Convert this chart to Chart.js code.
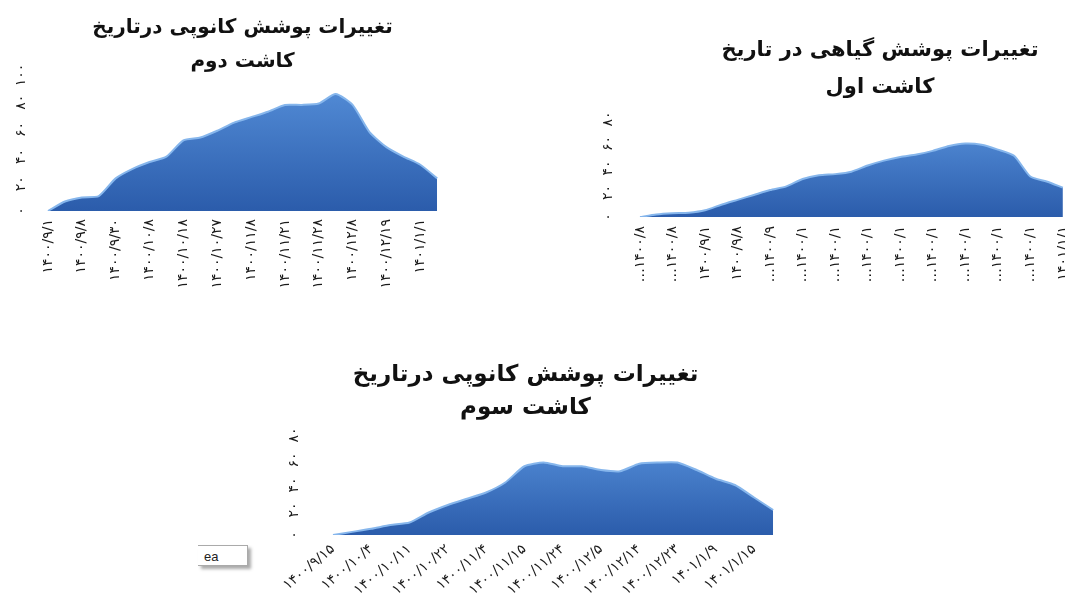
<!DOCTYPE html>
<html>
<head>
<meta charset="utf-8">
<script src="https://cdn.jsdelivr.net/npm/chart.js@4.4.1/dist/chart.umd.min.js"></script>
<style>
body { margin:0; width:1065px; height:603px; overflow:hidden; background:#fff; position:relative; }
canvas { position:absolute; }
#c1 { left:0; top:0; }
#c2 { left:590px; top:0; }
#c3 { left:261px; top:340px; }
.tip {
    position:absolute; left:198px; top:545px; width:50px; height:21px;
    background:#fff; border:1px solid #aaa; border-left:none;
    box-shadow:3px 3px 3px #aaa;
    font:13px "Liberation Sans", Arial, sans-serif; line-height:21px; color:#222;
    padding-left:6px; box-sizing:border-box;
}
</style>
</head>
<body>
<canvas id="c1" width="462" height="305"></canvas>
<canvas id="c2" width="580" height="310"></canvas>
<canvas id="c3" width="529" height="270"></canvas>
<div class="tip">ea</div>
<script>
const FONT = "'DejaVu Sans', sans-serif";

// chart 1 - کاشت دوم
const title1 = ["تغییرات پوشش کانوپی درتاریخ", "کاشت دوم"];
const dates1 = ["۱۴۰۰/۹/۱", "۱۴۰۰/۹/۸", "۱۴۰۰/۹/۳۰", "۱۴۰۰/۱۰/۸", "۱۴۰۰/۱۰/۱۸", "۱۴۰۰/۱۰/۲۷",
                "۱۴۰۰/۱۱/۸", "۱۴۰۰/۱۱/۲۱", "۱۴۰۰/۱۱/۲۸", "۱۴۰۰/۱۲/۸", "۱۴۰۰/۱۲/۱۹", "۱۴۰۱/۱/۱"];
const cover1 = [0, 7, 10, 11, 24, 31, 36, 40, 52, 54, 59, 65, 69, 73, 78, 78, 79, 86, 78, 58, 47, 40, 34, 24];

// chart 2 - کاشت اول
const title2 = ["تغییرات پوشش گیاهی در تاریخ", "کاشت اول"];
const dates2 = ["…۱۴۰۰/۸", "…۱۴۰۰/۸", "۱۴۰۰/۹/۱", "۱۴۰۰/۹/۸", "…۱۴۰۰/۹", "…۱۴۰۰/۱", "…۱۴۰۰/۱",
                "…۱۴۰۰/۱", "…۱۴۰۰/۱", "…۱۴۰۰/۱", "…۱۴۰۰/۱", "…۱۴۰۰/۱", "…۱۴۰۰/۱", "۱۴۰۱/۱/۱"];
const cover2 = [0, 2, 3, 3.5, 5.5, 10, 14, 18, 22, 25, 31, 34, 35, 37, 42, 46, 49, 51, 54, 58, 60, 59, 55, 50, 33, 29, 24];

// chart 3 - کاشت سوم
const title3 = ["تغییرات پوشش کانوپی درتاریخ", "کاشت سوم"];
const dates3 = ["۱۴۰۰/۹/۱۵", "۱۴۰۰/۱۰/۴", "۱۴۰۰/۱۰/۱۱", "۱۴۰۰/۱۰/۲۲", "۱۴۰۰/۱۱/۴", "۱۴۰۰/۱۱/۱۵",
                "۱۴۰۰/۱۱/۲۴", "۱۴۰۰/۱۲/۵", "۱۴۰۰/۱۲/۱۴", "۱۴۰۰/۱۲/۲۳", "۱۴۰۱/۱/۹", "۱۴۰۱/۱/۱۵"];
const cover3 = [0, 2.5, 5, 8, 10, 18, 24, 29, 34, 42, 55, 58, 55, 55, 52, 51, 57, 58, 58, 52, 45, 40, 30, 20];

const toFa = v => String(v).replace(/\d/g, d => "۰۱۲۳۴۵۶۷۸۹"[d]);

// one label on every second point, blanks in between
function buildCats(dates, count) {
    const arr = [];
    for (let i = 0; i < count; i++) arr.push(i % 2 ? "" : (dates[i / 2] || ""));
    return arr;
}

function areaFill(ctx) {
    const { chart } = ctx;
    const area = chart.chartArea;
    if (!area) return "#3a6fc0";
    const g = chart.ctx.createLinearGradient(0, area.top, 0, area.bottom);
    g.addColorStop(0, "#5690da");
    g.addColorStop(1, "#2b5cab");
    return g;
}

function makeChart(id, o) {
    return new Chart(document.getElementById(id), {
        type: "line",
        data: {
            labels: o.labels,
            datasets: [{
                data: o.values,
                fill: "origin",
                backgroundColor: areaFill,
                borderColor: "#86b6ec",
                borderWidth: 2,
                pointRadius: 0,
                tension: 0.2
            }]
        },
        options: {
            responsive: false,
            animation: false,
            events: [],
            plugins: {
                legend: { display: false },
                tooltip: { enabled: false },
                title: {
                    display: true,
                    text: o.title,
                    color: "#111",
                    fullSize: o.fullTitle,
                    font: { family: FONT, size: o.titleSize, weight: "bold", lineHeight: o.lineH },
                    padding: o.titlePad
                }
            },
            scales: {
                x: {
                    grid: { display: false, drawTicks: false },
                    border: { display: false },
                    ticks: {
                        autoSkip: false,
                        minRotation: o.xRot,
                        maxRotation: o.xRot,
                        padding: o.xPad,
                        color: "#1a1a1a",
                        font: { family: FONT, size: 14 }
                    },
                    afterFit: s => { s.height = o.xH; }
                },
                y: {
                    min: 0,
                    max: o.yMax,
                    grid: { display: false, drawTicks: false },
                    border: { display: false },
                    ticks: {
                        stepSize: 20,
                        minRotation: 90,
                        crossAlign: "center",
                        padding: o.yPad,
                        color: "#1a1a1a",
                        font: { family: FONT, size: 14 },
                        callback: v => toFa(v)
                    },
                    afterFit: s => { s.width = o.yW; }
                }
            }
        }
    });
}

makeChart("c1", {
    labels: buildCats(dates1, cover1.length), values: cover1, title: title1,
    fullTitle: false, titleSize: 20, lineH: 34 / 20, titlePad: { top: 11, bottom: -4 },
    xRot: 90, xPad: 8, xH: 94, yMax: 100, yPad: 15, yW: 48
});

// extra blank categories past the crop edge, the original chart runs on beyond the picture
makeChart("c2", {
    labels: buildCats(dates2, cover2.length + 5), values: cover2, title: title2,
    fullTitle: true, titleSize: 21, lineH: 37 / 21, titlePad: { top: 32.5, bottom: 12.5 },
    xRot: 90, xPad: 9, xH: 93, yMax: 80, yPad: 24, yW: 50
});

makeChart("c3", {
    labels: buildCats(dates3, cover3.length), values: cover3, title: title3,
    fullTitle: true, titleSize: 23, lineH: 33 / 23, titlePad: { top: 18.5, bottom: 10.5 },
    xRot: 40, xPad: 6, xH: 75, yMax: 80, yPad: 31, yW: 72
});
</script>
</body>
</html>
